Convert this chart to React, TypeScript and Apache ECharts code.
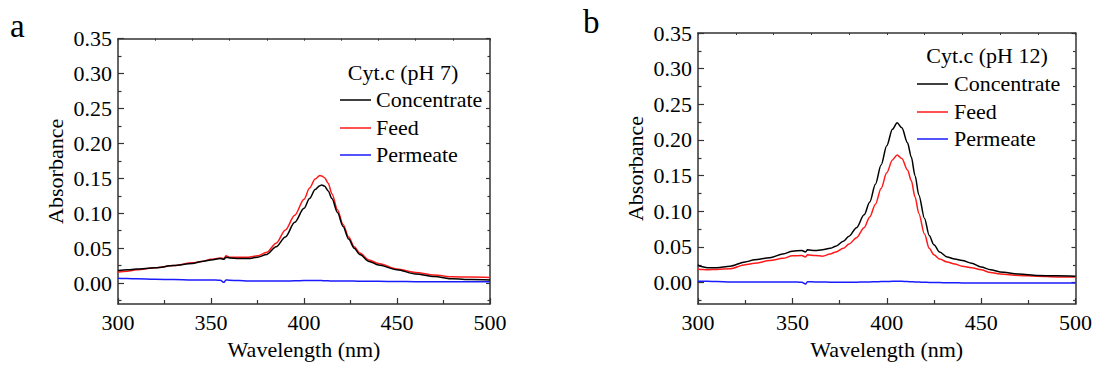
import React, { useEffect, useRef } from "react";
import * as echarts from "echarts";

// ---------- data ----------
const wavelengthA = [300, 305, 310, 320, 330, 340, 345, 350, 355, 357, 358, 360, 365, 370, 375, 380, 385, 390, 395, 400, 403, 406, 408.5, 409.5, 411, 413, 415, 418, 421, 424, 427, 430, 435, 440, 450, 460, 470, 480, 490, 500];
const concentrateA = [0.018, 0.019, 0.020, 0.022, 0.025, 0.028, 0.031, 0.033, 0.035, 0.034, 0.037, 0.036, 0.035, 0.035, 0.037, 0.041, 0.052, 0.066, 0.087, 0.107, 0.121, 0.134, 0.1395, 0.1405, 0.139, 0.132, 0.121, 0.101, 0.081, 0.063, 0.050, 0.041, 0.031, 0.026, 0.019, 0.013, 0.0095, 0.006, 0.005, 0.0045];
const feedA = [0.016, 0.017, 0.019, 0.022, 0.025, 0.029, 0.031, 0.034, 0.036, 0.035, 0.039, 0.037, 0.037, 0.037, 0.039, 0.044, 0.057, 0.076, 0.097, 0.120, 0.136, 0.149, 0.154, 0.1535, 0.151, 0.143, 0.128, 0.105, 0.084, 0.066, 0.052, 0.043, 0.033, 0.028, 0.020, 0.015, 0.0115, 0.009, 0.0085, 0.008];
const permeateA = [0.007, 0.0065, 0.006, 0.0055, 0.005, 0.0045, 0.0045, 0.0045, 0.004, 0.001, 0.0045, 0.004, 0.0035, 0.003, 0.003, 0.003, 0.003, 0.003, 0.0032, 0.0035, 0.0035, 0.0035, 0.0035, 0.0035, 0.0033, 0.0032, 0.003, 0.003, 0.003, 0.003, 0.0028, 0.0027, 0.0025, 0.0025, 0.0022, 0.002, 0.002, 0.002, 0.002, 0.002];

const wavelengthB = [300, 301, 305, 310, 317, 325, 330, 338, 345, 350, 355, 357, 358, 362, 366, 370, 373, 377, 380, 384, 388, 391, 394, 397, 400, 403, 405.5, 408, 411, 413, 415, 417, 420, 422.5, 425, 428, 432, 436, 440, 445, 450, 455, 460, 470, 480, 490, 500];
const concentrateB = [0.025, 0.023, 0.021, 0.021, 0.023, 0.029, 0.032, 0.035, 0.040, 0.044, 0.045, 0.043, 0.046, 0.045, 0.046, 0.048, 0.051, 0.058, 0.065, 0.077, 0.095, 0.113, 0.138, 0.165, 0.192, 0.215, 0.224, 0.217, 0.196, 0.176, 0.150, 0.123, 0.090, 0.066, 0.053, 0.043, 0.036, 0.033, 0.031, 0.027, 0.022, 0.018, 0.015, 0.012, 0.010, 0.0095, 0.009];
const feedB = [0.019, 0.0185, 0.018, 0.0185, 0.0195, 0.025, 0.027, 0.031, 0.034, 0.0375, 0.038, 0.036, 0.039, 0.038, 0.037, 0.040, 0.043, 0.048, 0.054, 0.063, 0.077, 0.092, 0.110, 0.132, 0.154, 0.172, 0.179, 0.174, 0.158, 0.143, 0.120, 0.097, 0.068, 0.048, 0.039, 0.033, 0.029, 0.026, 0.023, 0.021, 0.018, 0.014, 0.012, 0.010, 0.009, 0.008, 0.0078];
const permeateB = [0.002, 0.002, 0.0018, 0.0015, 0.001, 0.001, 0.001, 0.0008, 0.0008, 0.001, 0.0005, -0.002, 0.0012, 0.001, 0.0008, 0.0006, 0.0005, 0.0005, 0.0005, 0.0006, 0.0008, 0.001, 0.0012, 0.0014, 0.0016, 0.0018, 0.002, 0.0018, 0.0015, 0.0012, 0.001, 0.0008, 0.0005, 0.0003, 0, 0, -0.0002, -0.0003, -0.0004, -0.0005, -0.0005, -0.0005, -0.0005, -0.0005, -0.0005, -0.0005, -0.0005];

const yMajorTicks = [0, 0.05, 0.1, 0.15, 0.2, 0.25, 0.3, 0.35];
const yMinorTicks = [-0.025, 0.025, 0.075, 0.125, 0.175, 0.225, 0.275, 0.325];
const seriesNames = ["Concentrate", "Feed", "Permeate"];
const seriesColors = ["#000000", "#ff1a1a", "#1a1aff"];
const panelTitles = ["Cyt.c (pH 7)", "Cyt.c (pH 12)"];
const panelLetters = ["a", "b"];

const FONT = "Liberation Serif";
const FS = 22;
const AXIS_COLOR = "#333";

function zip(xs: number[], ys: number[]) {
  return xs.map((x, i) => [x, ys[i]]);
}

export default function App() {
  const ref = useRef<HTMLDivElement>(null);
  useEffect(() => {
    if (!ref.current) return;
    const chart = echarts.init(ref.current, null, { renderer: "svg" });

    const grids = [
      { left: 118, top: 38.7, width: 372, height: 272.3 },
      { left: 698, top: 33, width: 379, height: 277 },
    ];

    const xAxes: any[] = [];
    const yAxes: any[] = [];
    grids.forEach((_, gi) => {
      xAxes.push({
        gridIndex: gi,
        type: "value",
        min: 300,
        max: 500,
        interval: 50,
        position: "bottom",
        axisLine: { show: true, onZero: false, lineStyle: { color: AXIS_COLOR, width: 1.5 } },
        axisTick: { show: true, inside: true, length: 6, lineStyle: { color: AXIS_COLOR, width: 1.2 } },
        minorTick: { show: true, splitNumber: 2, length: 4, lineStyle: { color: AXIS_COLOR, width: 1.2 } },
        axisLabel: { fontFamily: FONT, fontSize: FS, color: "#000", margin: 7 },
        splitLine: { show: false },
        minorSplitLine: { show: false },
        name: "Wavelength (nm)",
        nameLocation: "middle",
        nameGap: 34,
        nameTextStyle: { fontFamily: FONT, fontSize: FS, color: "#000" },
      });
      xAxes.push({
        gridIndex: gi,
        type: "value",
        min: 300,
        max: 500,
        interval: 20,
        position: "top",
        axisLine: { show: true, onZero: false, lineStyle: { color: AXIS_COLOR, width: 1.5 } },
        axisTick: { show: true, inside: true, length: 2, lineStyle: { color: AXIS_COLOR, width: 1 } },
        axisLabel: { show: false },
        splitLine: { show: false },
      });
      const yBase = { gridIndex: gi, type: "value", min: -0.03, max: 0.35, splitLine: { show: false } };
      yAxes.push({
        ...yBase,
        position: "left",
        axisLine: { show: true, onZero: false, lineStyle: { color: AXIS_COLOR, width: 1.5 } },
        axisTick: { show: true, inside: true, length: 6, customValues: yMajorTicks, lineStyle: { color: AXIS_COLOR, width: 1.2 } },
        axisLabel: {
          customValues: yMajorTicks,
          formatter: (v: number) => v.toFixed(2),
          fontFamily: FONT,
          fontSize: FS,
          color: "#000",
          margin: 6,
        },
        name: "Absorbance",
        nameLocation: "middle",
        nameGap: 52,
        nameTextStyle: { fontFamily: FONT, fontSize: FS, color: "#000" },
      });
      yAxes.push({
        ...yBase,
        position: "left",
        axisLine: { show: false, onZero: false },
        axisTick: { show: true, inside: true, length: 3.5, customValues: yMinorTicks, lineStyle: { color: AXIS_COLOR, width: 1.2 } },
        axisLabel: { show: false },
      });
      yAxes.push({
        ...yBase,
        position: "right",
        axisLine: { show: true, onZero: false, lineStyle: { color: AXIS_COLOR, width: 1.5 } },
        axisTick: { show: true, inside: true, length: 4, customValues: yMajorTicks, lineStyle: { color: AXIS_COLOR, width: 1.2 } },
        axisLabel: { show: false },
      });
      yAxes.push({
        ...yBase,
        position: "right",
        axisLine: { show: false, onZero: false },
        axisTick: { show: true, inside: true, length: 2.5, customValues: yMinorTicks, lineStyle: { color: AXIS_COLOR, width: 1.2 } },
        axisLabel: { show: false },
      });
    });

    const panelData = [
      [zip(wavelengthA, concentrateA), zip(wavelengthA, feedA), zip(wavelengthA, permeateA)],
      [zip(wavelengthB, concentrateB), zip(wavelengthB, feedB), zip(wavelengthB, permeateB)],
    ];

    const series: any[] = [];
    panelData.forEach((list, gi) => {
      list.forEach((data, si) => {
        series.push({
          type: "line",
          name: seriesNames[si],
          xAxisIndex: gi * 2,
          yAxisIndex: gi * 4,
          data,
          showSymbol: false,
          symbol: "none",
          smooth: 0.3,
          smoothMonotone: "x",
          lineStyle: { color: seriesColors[si], width: 1.5 },
          itemStyle: { color: seriesColors[si] },
          z: 3 - si,
        });
      });
    });

    const legendLayout = [
      { titleX: 403, titleY: 72, lineX1: 340, lineX2: 371, textX: 376, rows: [99, 127, 154] },
      { titleX: 987, titleY: 55, lineX1: 917, lineX2: 948, textX: 954, rows: [83, 111, 138] },
    ];
    const textStyle = (text: string, size: number, align: string, vAlign: string) => ({
      text,
      fontFamily: FONT,
      fontSize: size,
      fill: "#000",
      textAlign: align,
      textVerticalAlign: vAlign,
    });
    const graphic: any[] = [];
    legendLayout.forEach((L, gi) => {
      graphic.push({
        type: "text",
        x: L.titleX,
        y: L.titleY,
        style: textStyle(panelTitles[gi], FS, "center", "middle"),
      });
      seriesNames.forEach((nm, si) => {
        graphic.push({
          type: "line",
          shape: { x1: L.lineX1, y1: L.rows[si] + 1, x2: L.lineX2, y2: L.rows[si] + 1 },
          style: { stroke: seriesColors[si], lineWidth: 1.5 },
        });
        graphic.push({
          type: "text",
          x: L.textX,
          y: L.rows[si],
          style: textStyle(nm, FS, "left", "middle"),
        });
      });
    });
    graphic.push({ type: "text", x: 10, y: 42, style: textStyle(panelLetters[0], 33, "left", "bottom") });
    graphic.push({ type: "text", x: 583, y: 38, style: textStyle(panelLetters[1], 33, "left", "bottom") });

    chart.setOption({
      animation: false,
      backgroundColor: "#ffffff",
      grid: grids.map((g) => ({ ...g, containLabel: false })),
      xAxis: xAxes,
      yAxis: yAxes,
      series,
      graphic,
    });
    return () => chart.dispose();
  }, []);

  return (
    <div
      ref={ref}
      style={{ position: "absolute", left: 0, top: 0, width: 1095, height: 365, background: "#fff" }}
    />
  );
}
